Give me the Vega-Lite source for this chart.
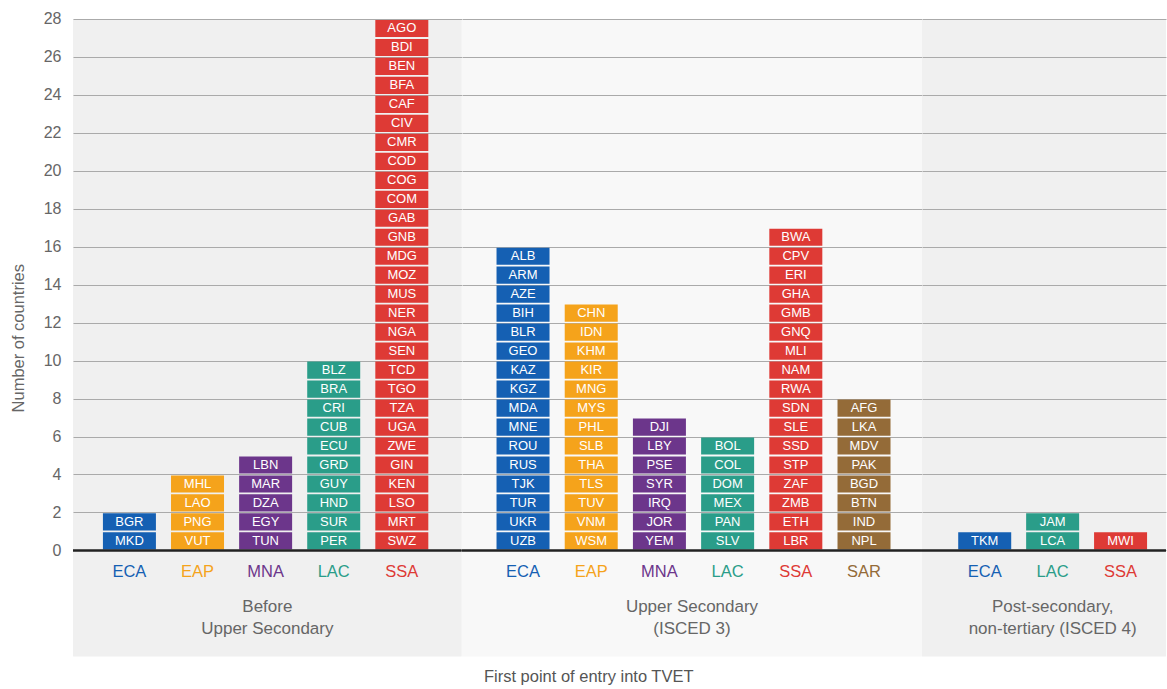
{
  "$schema": "https://vega.github.io/schema/vega-lite/v6.json",
  "padding": {"left": 10, "top": 11, "right": 0, "bottom": 0},
  "config": {"view": {"stroke": null}, "font": "Liberation Sans"},
  "title": {"text": "First point of entry into TVET", "orient": "bottom", "anchor": "middle", "fontSize": 16.5, "fontWeight": "normal", "color": "#555555", "offset": 13},
  "datasets": {
    "countries": [
      {"g":"B","r":"ECA","c":"BGR","k":1},{"g":"B","r":"ECA","c":"MKD","k":2},
      {"g":"B","r":"EAP","c":"MHL","k":1},{"g":"B","r":"EAP","c":"LAO","k":2},{"g":"B","r":"EAP","c":"PNG","k":3},{"g":"B","r":"EAP","c":"VUT","k":4},
      {"g":"B","r":"MNA","c":"LBN","k":1},{"g":"B","r":"MNA","c":"MAR","k":2},{"g":"B","r":"MNA","c":"DZA","k":3},{"g":"B","r":"MNA","c":"EGY","k":4},{"g":"B","r":"MNA","c":"TUN","k":5},
      {"g":"B","r":"LAC","c":"BLZ","k":1},{"g":"B","r":"LAC","c":"BRA","k":2},{"g":"B","r":"LAC","c":"CRI","k":3},{"g":"B","r":"LAC","c":"CUB","k":4},{"g":"B","r":"LAC","c":"ECU","k":5},{"g":"B","r":"LAC","c":"GRD","k":6},{"g":"B","r":"LAC","c":"GUY","k":7},{"g":"B","r":"LAC","c":"HND","k":8},{"g":"B","r":"LAC","c":"SUR","k":9},{"g":"B","r":"LAC","c":"PER","k":10},
      {"g":"B","r":"SSA","c":"AGO","k":1},{"g":"B","r":"SSA","c":"BDI","k":2},{"g":"B","r":"SSA","c":"BEN","k":3},{"g":"B","r":"SSA","c":"BFA","k":4},{"g":"B","r":"SSA","c":"CAF","k":5},{"g":"B","r":"SSA","c":"CIV","k":6},{"g":"B","r":"SSA","c":"CMR","k":7},{"g":"B","r":"SSA","c":"COD","k":8},{"g":"B","r":"SSA","c":"COG","k":9},{"g":"B","r":"SSA","c":"COM","k":10},{"g":"B","r":"SSA","c":"GAB","k":11},{"g":"B","r":"SSA","c":"GNB","k":12},{"g":"B","r":"SSA","c":"MDG","k":13},{"g":"B","r":"SSA","c":"MOZ","k":14},{"g":"B","r":"SSA","c":"MUS","k":15},{"g":"B","r":"SSA","c":"NER","k":16},{"g":"B","r":"SSA","c":"NGA","k":17},{"g":"B","r":"SSA","c":"SEN","k":18},{"g":"B","r":"SSA","c":"TCD","k":19},{"g":"B","r":"SSA","c":"TGO","k":20},{"g":"B","r":"SSA","c":"TZA","k":21},{"g":"B","r":"SSA","c":"UGA","k":22},{"g":"B","r":"SSA","c":"ZWE","k":23},{"g":"B","r":"SSA","c":"GIN","k":24},{"g":"B","r":"SSA","c":"KEN","k":25},{"g":"B","r":"SSA","c":"LSO","k":26},{"g":"B","r":"SSA","c":"MRT","k":27},{"g":"B","r":"SSA","c":"SWZ","k":28},
      {"g":"U","r":"ECA","c":"ALB","k":1},{"g":"U","r":"ECA","c":"ARM","k":2},{"g":"U","r":"ECA","c":"AZE","k":3},{"g":"U","r":"ECA","c":"BIH","k":4},{"g":"U","r":"ECA","c":"BLR","k":5},{"g":"U","r":"ECA","c":"GEO","k":6},{"g":"U","r":"ECA","c":"KAZ","k":7},{"g":"U","r":"ECA","c":"KGZ","k":8},{"g":"U","r":"ECA","c":"MDA","k":9},{"g":"U","r":"ECA","c":"MNE","k":10},{"g":"U","r":"ECA","c":"ROU","k":11},{"g":"U","r":"ECA","c":"RUS","k":12},{"g":"U","r":"ECA","c":"TJK","k":13},{"g":"U","r":"ECA","c":"TUR","k":14},{"g":"U","r":"ECA","c":"UKR","k":15},{"g":"U","r":"ECA","c":"UZB","k":16},
      {"g":"U","r":"EAP","c":"CHN","k":1},{"g":"U","r":"EAP","c":"IDN","k":2},{"g":"U","r":"EAP","c":"KHM","k":3},{"g":"U","r":"EAP","c":"KIR","k":4},{"g":"U","r":"EAP","c":"MNG","k":5},{"g":"U","r":"EAP","c":"MYS","k":6},{"g":"U","r":"EAP","c":"PHL","k":7},{"g":"U","r":"EAP","c":"SLB","k":8},{"g":"U","r":"EAP","c":"THA","k":9},{"g":"U","r":"EAP","c":"TLS","k":10},{"g":"U","r":"EAP","c":"TUV","k":11},{"g":"U","r":"EAP","c":"VNM","k":12},{"g":"U","r":"EAP","c":"WSM","k":13},
      {"g":"U","r":"MNA","c":"DJI","k":1},{"g":"U","r":"MNA","c":"LBY","k":2},{"g":"U","r":"MNA","c":"PSE","k":3},{"g":"U","r":"MNA","c":"SYR","k":4},{"g":"U","r":"MNA","c":"IRQ","k":5},{"g":"U","r":"MNA","c":"JOR","k":6},{"g":"U","r":"MNA","c":"YEM","k":7},
      {"g":"U","r":"LAC","c":"BOL","k":1},{"g":"U","r":"LAC","c":"COL","k":2},{"g":"U","r":"LAC","c":"DOM","k":3},{"g":"U","r":"LAC","c":"MEX","k":4},{"g":"U","r":"LAC","c":"PAN","k":5},{"g":"U","r":"LAC","c":"SLV","k":6},
      {"g":"U","r":"SSA","c":"BWA","k":1},{"g":"U","r":"SSA","c":"CPV","k":2},{"g":"U","r":"SSA","c":"ERI","k":3},{"g":"U","r":"SSA","c":"GHA","k":4},{"g":"U","r":"SSA","c":"GMB","k":5},{"g":"U","r":"SSA","c":"GNQ","k":6},{"g":"U","r":"SSA","c":"MLI","k":7},{"g":"U","r":"SSA","c":"NAM","k":8},{"g":"U","r":"SSA","c":"RWA","k":9},{"g":"U","r":"SSA","c":"SDN","k":10},{"g":"U","r":"SSA","c":"SLE","k":11},{"g":"U","r":"SSA","c":"SSD","k":12},{"g":"U","r":"SSA","c":"STP","k":13},{"g":"U","r":"SSA","c":"ZAF","k":14},{"g":"U","r":"SSA","c":"ZMB","k":15},{"g":"U","r":"SSA","c":"ETH","k":16},{"g":"U","r":"SSA","c":"LBR","k":17},
      {"g":"U","r":"SAR","c":"AFG","k":1},{"g":"U","r":"SAR","c":"LKA","k":2},{"g":"U","r":"SAR","c":"MDV","k":3},{"g":"U","r":"SAR","c":"PAK","k":4},{"g":"U","r":"SAR","c":"BGD","k":5},{"g":"U","r":"SAR","c":"BTN","k":6},{"g":"U","r":"SAR","c":"IND","k":7},{"g":"U","r":"SAR","c":"NPL","k":8},
      {"g":"P","r":"ECA","c":"TKM","k":1},
      {"g":"P","r":"LAC","c":"JAM","k":1},{"g":"P","r":"LAC","c":"LCA","k":2},
      {"g":"P","r":"SSA","c":"MWI","k":1}
    ],
    "groups": [
      {"g":"B","label":["Before","Upper Secondary"]},
      {"g":"U","label":["Upper Secondary","(ISCED 3)"]},
      {"g":"P","label":["Post-secondary,","non-tertiary (ISCED 4)"]}
    ]
  },
  "spacing": 0,
  "bounds": "flush",
  "hconcat": [
    {
      "width": 388.7, "height": 637.4,
      "view": {"fill": "#f0f0f0", "stroke": null},
      "layer": [
        {
          "data": {"name": "countries"},
          "transform": [
            {"filter": "datum.g === 'B'"},
            {"aggregate": [{"op": "count", "as": "n"}], "groupby": ["g","r","c","k"]},
            {"stack": "n", "groupby": ["r"], "sort": [{"field": "k", "order": "descending"}], "as": ["y0","y1"]}
          ],
          "mark": {"type": "bar", "width": 53, "yOffset": 0.9, "y2Offset": -0.9},
          "encoding": {
            "x": {"field": "r", "type": "nominal", "scale": {"domain": ["ECA","EAP","MNA","LAC","SSA"], "paddingInner": 0, "paddingOuter": 0.354, "align": 0.464}, "axis": null},
            "y": {"field": "y1", "type": "quantitative", "scale": {"domain": [-5.585, 28], "nice": false, "zero": false},
                  "axis": {"values": [0,2,4,6,8,10,12,14,16,18,20,22,24,26,28], "title": "Number of countries", "titleFontSize": 16.5, "titleFontWeight": "normal", "titleColor": "#666666", "titlePadding": 17, "labelFontSize": 16, "labelColor": "#666666", "labelPadding": 12, "ticks": false, "domain": false, "grid": true, "gridColor": "#aaaaaa", "gridWidth": 1.2}},
            "y2": {"field": "y0"},
            "color": {"field": "r", "type": "nominal", "scale": {"domain": ["ECA","EAP","MNA","LAC","SSA","SAR"], "range": ["#1560b3","#f5a31b","#6c368b","#2a9d89","#de3a35","#946b38"]}, "legend": null}
          }
        },
        {
          "data": {"name": "countries"},
          "transform": [
            {"filter": "datum.g === 'B'"},
            {"aggregate": [{"op": "count", "as": "n"}], "groupby": ["g","r","c","k"]},
            {"stack": "n", "groupby": ["r"], "sort": [{"field": "k", "order": "descending"}], "as": ["y0","y1"]}
          ],
          "mark": {"type": "text", "color": "white", "fontSize": 13, "baseline": "middle", "dy": 9.5},
          "encoding": {
            "x": {"field": "r", "type": "nominal"},
            "y": {"field": "y1", "type": "quantitative"},
            "text": {"field": "c"}
          }
        },
        {
          "data": {"name": "groups"},
          "transform": [{"filter": "datum.g === 'B'"}],
          "mark": {"type": "rule", "color": "#222222", "strokeWidth": 2.5},
          "encoding": {"y": {"datum": 0}}
        },
        {
          "data": {"name": "countries"},
          "transform": [
            {"filter": "datum.g === 'B'"},
            {"aggregate": [{"op": "count", "as": "n"}], "groupby": ["r"]}
          ],
          "mark": {"type": "text", "fontSize": 16.5, "baseline": "middle"},
          "encoding": {
            "x": {"field": "r", "type": "nominal"},
            "y": {"datum": -1.14},
            "text": {"field": "r"},
            "color": {"field": "r", "type": "nominal"}
          }
        },
        {
          "data": {"name": "groups"},
          "transform": [{"filter": "datum.g === 'B'"}],
          "mark": {"type": "text", "fontSize": 17, "color": "#666666", "baseline": "middle", "lineHeight": 21.7},
          "encoding": {
            "y": {"datum": -2.98},
            "text": {"field": "label"}
          }
        }
      ]
    },
    {
      "width": 460, "height": 637.4,
      "view": {"fill": "#f8f8f8", "stroke": null},
      "layer": [
        {
          "data": {"name": "countries"},
          "transform": [
            {"filter": "datum.g === 'U'"},
            {"aggregate": [{"op": "count", "as": "n"}], "groupby": ["g","r","c","k"]},
            {"stack": "n", "groupby": ["r"], "sort": [{"field": "k", "order": "descending"}], "as": ["y0","y1"]}
          ],
          "mark": {"type": "bar", "width": 53, "yOffset": 0.9, "y2Offset": -0.9},
          "encoding": {
            "x": {"field": "r", "type": "nominal", "scale": {"domain": ["ECA","EAP","MNA","LAC","SSA","SAR"], "paddingInner": 0, "paddingOuter": 0.3725, "align": 0.53}, "axis": null},
            "y": {"field": "y1", "type": "quantitative", "scale": {"domain": [-5.585, 28], "nice": false, "zero": false},
                  "axis": {"values": [0,2,4,6,8,10,12,14,16,18,20,22,24,26,28], "title": null, "labels": false, "ticks": false, "domain": false, "grid": true, "gridColor": "#aaaaaa", "gridWidth": 1.2, "minExtent": 0, "maxExtent": 0}},
            "y2": {"field": "y0"},
            "color": {"field": "r", "type": "nominal", "scale": {"domain": ["ECA","EAP","MNA","LAC","SSA","SAR"], "range": ["#1560b3","#f5a31b","#6c368b","#2a9d89","#de3a35","#946b38"]}, "legend": null}
          }
        },
        {
          "data": {"name": "countries"},
          "transform": [
            {"filter": "datum.g === 'U'"},
            {"aggregate": [{"op": "count", "as": "n"}], "groupby": ["g","r","c","k"]},
            {"stack": "n", "groupby": ["r"], "sort": [{"field": "k", "order": "descending"}], "as": ["y0","y1"]}
          ],
          "mark": {"type": "text", "color": "white", "fontSize": 13, "baseline": "middle", "dy": 9.5},
          "encoding": {
            "x": {"field": "r", "type": "nominal"},
            "y": {"field": "y1", "type": "quantitative"},
            "text": {"field": "c"}
          }
        },
        {
          "data": {"name": "groups"},
          "transform": [{"filter": "datum.g === 'U'"}],
          "mark": {"type": "rule", "color": "#222222", "strokeWidth": 2.5},
          "encoding": {"y": {"datum": 0}}
        },
        {
          "data": {"name": "countries"},
          "transform": [
            {"filter": "datum.g === 'U'"},
            {"aggregate": [{"op": "count", "as": "n"}], "groupby": ["r"]}
          ],
          "mark": {"type": "text", "fontSize": 16.5, "baseline": "middle"},
          "encoding": {
            "x": {"field": "r", "type": "nominal"},
            "y": {"datum": -1.14},
            "text": {"field": "r"},
            "color": {"field": "r", "type": "nominal"}
          }
        },
        {
          "data": {"name": "groups"},
          "transform": [{"filter": "datum.g === 'U'"}],
          "mark": {"type": "text", "fontSize": 17, "color": "#666666", "baseline": "middle", "lineHeight": 21.7},
          "encoding": {
            "y": {"datum": -2.98},
            "text": {"field": "label"}
          }
        }
      ]
    },
    {
      "width": 244, "height": 637.4,
      "view": {"fill": "#f0f0f0", "stroke": null},
      "layer": [
        {
          "data": {"name": "countries"},
          "transform": [
            {"filter": "datum.g === 'P'"},
            {"aggregate": [{"op": "count", "as": "n"}], "groupby": ["g","r","c","k"]},
            {"stack": "n", "groupby": ["r"], "sort": [{"field": "k", "order": "descending"}], "as": ["y0","y1"]}
          ],
          "mark": {"type": "bar", "width": 53, "yOffset": 0.9, "y2Offset": -0.9},
          "encoding": {
            "x": {"field": "r", "type": "nominal", "scale": {"domain": ["ECA","LAC","SSA"], "paddingInner": 0, "paddingOuter": 0.296, "align": 0.715}, "axis": null},
            "y": {"field": "y1", "type": "quantitative", "scale": {"domain": [-5.585, 28], "nice": false, "zero": false},
                  "axis": {"values": [0,2,4,6,8,10,12,14,16,18,20,22,24,26,28], "title": null, "labels": false, "ticks": false, "domain": false, "grid": true, "gridColor": "#aaaaaa", "gridWidth": 1.2, "minExtent": 0, "maxExtent": 0}},
            "y2": {"field": "y0"},
            "color": {"field": "r", "type": "nominal", "scale": {"domain": ["ECA","EAP","MNA","LAC","SSA","SAR"], "range": ["#1560b3","#f5a31b","#6c368b","#2a9d89","#de3a35","#946b38"]}, "legend": null}
          }
        },
        {
          "data": {"name": "countries"},
          "transform": [
            {"filter": "datum.g === 'P'"},
            {"aggregate": [{"op": "count", "as": "n"}], "groupby": ["g","r","c","k"]},
            {"stack": "n", "groupby": ["r"], "sort": [{"field": "k", "order": "descending"}], "as": ["y0","y1"]}
          ],
          "mark": {"type": "text", "color": "white", "fontSize": 13, "baseline": "middle", "dy": 9.5},
          "encoding": {
            "x": {"field": "r", "type": "nominal"},
            "y": {"field": "y1", "type": "quantitative"},
            "text": {"field": "c"}
          }
        },
        {
          "data": {"name": "groups"},
          "transform": [{"filter": "datum.g === 'P'"}],
          "mark": {"type": "rule", "color": "#222222", "strokeWidth": 2.5},
          "encoding": {"y": {"datum": 0}}
        },
        {
          "data": {"name": "countries"},
          "transform": [
            {"filter": "datum.g === 'P'"},
            {"aggregate": [{"op": "count", "as": "n"}], "groupby": ["r"]}
          ],
          "mark": {"type": "text", "fontSize": 16.5, "baseline": "middle"},
          "encoding": {
            "x": {"field": "r", "type": "nominal"},
            "y": {"datum": -1.14},
            "text": {"field": "r"},
            "color": {"field": "r", "type": "nominal"}
          }
        },
        {
          "data": {"name": "groups"},
          "transform": [{"filter": "datum.g === 'P'"}],
          "mark": {"type": "text", "fontSize": 17, "color": "#666666", "baseline": "middle", "lineHeight": 21.7},
          "encoding": {
            "x": {"datum": "LAC", "type": "nominal"},
            "y": {"datum": -2.98},
            "text": {"field": "label"}
          }
        }
      ]
    }
  ]
}
